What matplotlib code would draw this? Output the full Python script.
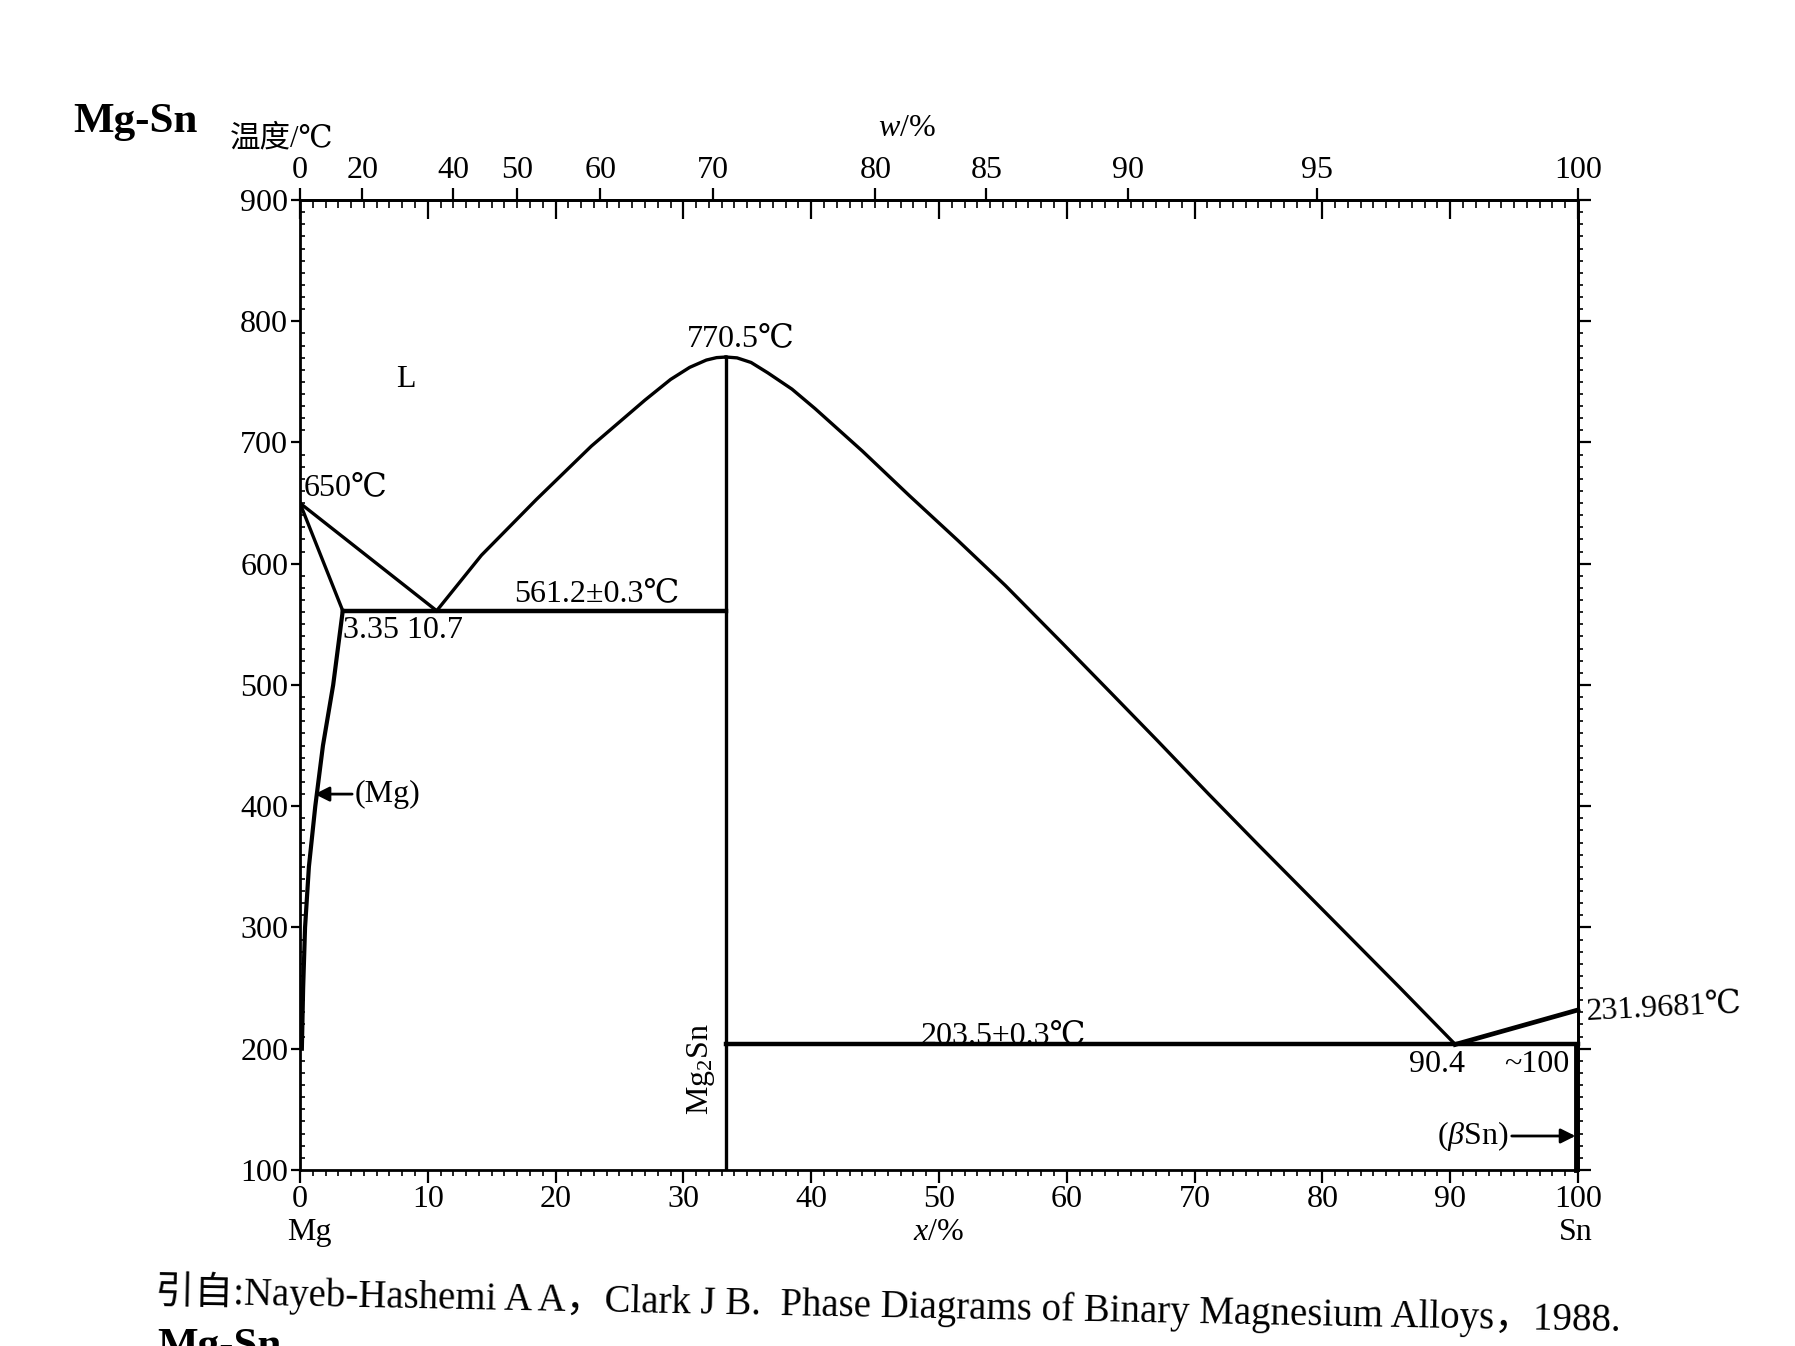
import numpy as np
import matplotlib
matplotlib.use('Agg')
import matplotlib.pyplot as plt
from matplotlib.ticker import NullLocator

plt.rcParams['font.family'] = ['Liberation Serif', 'DejaVu Serif', 'Noto Sans CJK SC']
plt.rcParams['mathtext.fontset'] = 'custom'
plt.rcParams['mathtext.rm'] = 'Liberation Serif'
plt.rcParams['mathtext.it'] = 'Liberation Serif:italic'

M_MG, M_SN = 24.305, 118.71

# x in at.% Sn, T in degC
liq_mg_x = [0, 10.7]
liq_mg_t = [650, 561.2]
sol_mg_x = [0, 3.35]
sol_mg_t = [650, 561.2]
solvus_x = [3.35, 2.6, 1.8, 1.2, 0.7, 0.4, 0.25, 0.15]
solvus_t = [561.2, 500, 450, 400, 350, 300, 250, 200]
liq_mid_x = [10.7, 14.2, 18.5, 22.8, 27.0, 29.0, 30.5, 31.8, 32.6, 33.33]
liq_mid_t = [561.2, 607, 653, 697, 735, 752, 762, 768, 770, 770.5]
liq_sn_x = [33.33, 34.2, 35.3, 36.6, 38.5, 40.3, 44.0, 47.7, 51.5, 55.2,
            59.7, 63.5, 67.1, 71.1, 75.0, 81.3, 86.0, 90.4]
liq_sn_t = [770.5, 769.8, 766, 757.5, 744, 728, 693, 656, 619, 582,
            534, 493, 454, 410, 368, 301, 251, 203.5]
liq_sn2_x = [90.4, 100]
liq_sn2_t = [203.5, 231.9681]
mg2sn_x = 33.33
mg2sn_t = [770.5, 100]
eut1_x = [3.35, 33.33]
eut1_t = 561.2
eut2_x = [33.33, 100]
eut2_t = 203.5
bsn_x = 99.85
bsn_t = [203.5, 100]

wt_ticks = [0, 20, 40, 50, 60, 70, 80, 85, 90, 95, 100]


def at2wt(x):
    x = np.asarray(x, dtype=float)
    with np.errstate(divide='ignore', invalid='ignore'):
        return 100 * x * M_SN / (x * M_SN + (100 - x) * M_MG)


def wt2at(w):
    w = np.asarray(w, dtype=float)
    with np.errstate(divide='ignore', invalid='ignore'):
        a = w / M_SN
        b = (100 - w) / M_MG
        return 100 * a / (a + b)


fig = plt.figure(figsize=(17.95, 13.46), dpi=100)
ax = fig.add_axes([0.1671, 0.1308, 0.7120, 0.7206])
ax.set_xlim(0, 100)
ax.set_ylim(100, 900)

lw = 2.4
ax.plot(liq_mg_x, liq_mg_t, 'k-', lw=lw)
ax.plot(sol_mg_x, sol_mg_t, 'k-', lw=lw)
ax.plot(solvus_x, solvus_t, 'k-', lw=lw + 0.6)
ax.plot(liq_mid_x, liq_mid_t, 'k-', lw=lw, solid_joinstyle='round')
ax.plot(liq_sn_x, liq_sn_t, 'k-', lw=lw, solid_joinstyle='round')
ax.plot(liq_sn2_x, liq_sn2_t, 'k-', lw=lw + 1, clip_on=False)
ax.plot([mg2sn_x, mg2sn_x], mg2sn_t, 'k-', lw=lw)
ax.plot(eut1_x, [eut1_t, eut1_t], 'k-', lw=3.2)
ax.plot(eut2_x, [eut2_t, eut2_t], 'k-', lw=3.2, clip_on=False)
ax.plot([bsn_x, bsn_x], bsn_t, 'k-', lw=3.5, clip_on=False)

for s in ax.spines.values():
    s.set_linewidth(2)

# bottom / left ticks
ax.set_xticks(np.arange(0, 101, 10))
ax.set_xticks(np.arange(0, 101, 1), minor=True)
ax.set_yticks(np.arange(100, 901, 100))
ax.set_yticks(np.arange(100, 901, 10), minor=True)
ax.tick_params(axis='x', which='major', direction='out', length=9, width=1.6,
               labelsize=23, pad=2, top=False)
ax.tick_params(axis='x', which='minor', direction='out', length=4, width=1.2, top=False)
ax.tick_params(axis='y', which='major', direction='out', length=6.5, width=1.6,
               labelsize=23, pad=2, right=False)
ax.tick_params(axis='y', which='minor', direction='in', length=3.6, width=1.2, right=False)

# top: mass percent scale
top = ax.secondary_xaxis('top', functions=(at2wt, wt2at))
top.set_xticks(wt_ticks)
top.xaxis.set_minor_locator(NullLocator())
top.tick_params(direction='out', length=8.5, width=1.6, labelsize=23, pad=2)
top.spines['top'].set_linewidth(2)

# top: inner atomic percent ticks
topin = ax.secondary_xaxis('top')
topin.set_xticks(np.arange(0, 101, 10))
topin.set_xticks(np.arange(0, 101, 1), minor=True)
topin.tick_params(which='major', direction='in', length=14, width=1.6, labeltop=False)
topin.tick_params(which='minor', direction='in', length=6, width=1.2, labeltop=False)

# right ticks
rgt = ax.secondary_yaxis('right')
rgt.set_yticks(np.arange(100, 901, 100))
rgt.set_yticks(np.arange(100, 901, 10), minor=True)
rgt.tick_params(which='major', direction='out', length=9, width=1.6, labelright=False)
rgt.tick_params(which='minor', direction='out', length=3.6, width=1.2, labelright=False)
rgt.spines['right'].set_linewidth(2)

fs = 23
ax.text(8.3, 752, 'L', ha='center', va='center', fontsize=fs)
ax.text(34.5, 774, '770.5℃', ha='center', va='bottom', fontsize=fs)
ax.text(0.3, 651, '650℃', ha='left', va='bottom', fontsize=fs)
ax.text(3.4, 557, '3.35 10.7', ha='left', va='top', fontsize=fs)
ax.text(23.2, 563, '561.2±0.3℃', ha='center', va='bottom', fontsize=fs)
ax.text(31.4, 183, 'Mg$_2$Sn', ha='center', va='center', rotation=90, fontsize=fs)
ax.text(55, 204.5, '203.5±0.3℃', ha='center', va='baseline', fontsize=fs)
ax.text(89.0, 199, '90.4', ha='center', va='top', fontsize=fs)
ax.text(99.3, 199, '~100', ha='right', va='top', fontsize=fs)
ax.text(100.6, 234, '231.9681℃', ha='left', va='center', rotation=3,
        fontsize=fs, clip_on=False)

arrow = dict(arrowstyle='-|>', lw=2, color='k', shrinkA=0, shrinkB=0, mutation_scale=22)
ax.annotate('(Mg)', xy=(1.15, 410), xytext=(4.3, 410), ha='left', va='center',
            fontsize=fs, arrowprops=arrow)
ax.annotate('($\\beta$Sn)', xy=(99.8, 128), xytext=(94.6, 128), ha='right', va='center',
            fontsize=fs, arrowprops=arrow)

xt = ax.get_xaxis_transform()
ax.text(0.7, -0.064, 'Mg', transform=xt, ha='center', va='center', fontsize=fs)
ax.text(99.8, -0.064, 'Sn', transform=xt, ha='center', va='center', fontsize=fs)
ax.text(50, -0.064, '$x$/%', transform=xt, ha='center', va='center', fontsize=fs)
ax.text(47.5, 1.074, '$w$/%', transform=xt, ha='center', va='center', fontsize=fs)
ax.text(-0.014, 1.063, '温度/℃', transform=ax.transAxes, ha='center', va='center',
        fontsize=22)

fig.text(73 / 1795, 1 - 132 / 1346, 'Mg-Sn', ha='left', va='baseline',
         fontsize=31, fontweight='bold')
fig.text(155 / 1795, 1 - 1291 / 1346,
         '引自:Nayeb-Hashemi A A，Clark J B.  Phase Diagrams of Binary Magnesium Alloys，1988.',
         ha='left', va='center', rotation=-1.1, rotation_mode='anchor', fontsize=28)
fig.text(157 / 1795, 1 - 1328 / 1346, 'Mg-Sn', ha='left', va='top',
         fontsize=31, fontweight='bold')

fig.savefig('out.png', dpi=100)
